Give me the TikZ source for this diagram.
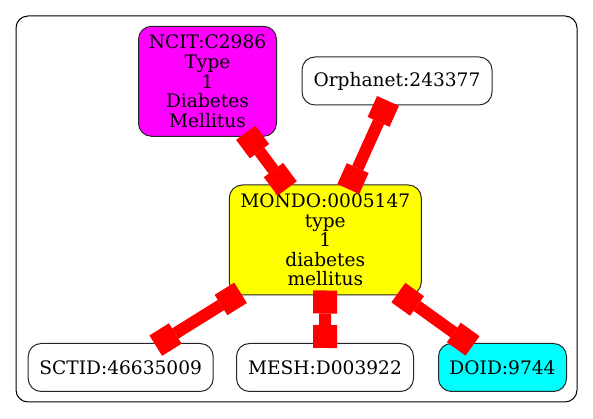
\documentclass[tikz,border=0pt]{standalone}
\usepackage{fontspec}
\setmainfont{DejaVu Serif}
\usetikzlibrary{arrows.meta}
\tikzset{
  termbox/.style={draw=black!85, line width=1pt, rounded corners=13pt, inner sep=0pt,
    align=center, font=\fontsize{18.6}{19.6}\selectfont},
  link/.style={draw=red, line width=12pt,
    {Square[length=23pt,width=24pt,line width=0pt]}-{Square[length=23pt,width=24pt,line width=0pt]},
    shorten <=-5pt, shorten >=-5pt}
}
\begin{document}
\begin{tikzpicture}[x=1pt,y=1pt]
\useasboundingbox (0,0) rectangle (593,419);
\draw[black, line width=1pt, rounded corners=12pt] (16,17) rectangle (577,403);
\node[termbox, fill={rgb,255:red,255;green,0;blue,255}, minimum width=138pt, minimum height=110pt] (ncit) at (207.5,337.7) {NCIT:C2986\\Type\\1\\Diabetes\\Mellitus};
\node[termbox, fill=white, minimum width=190pt, minimum height=48pt] (orpha) at (397,338) {Orphanet:243377};
\node[termbox, fill={rgb,255:red,255;green,255;blue,0}, minimum width=192pt, minimum height=110pt] (mondo) at (325.3,179) {MONDO:0005147\\type\\1\\diabetes\\mellitus};
\node[termbox, fill=white, minimum width=185pt, minimum height=48pt] (sctid) at (120.7,51.5) {SCTID:46635009};
\node[termbox, fill=white, minimum width=177pt, minimum height=48pt] (mesh) at (325,51.5) {MESH:D003922};
\node[termbox, fill={rgb,255:red,0;green,255;blue,255}, minimum width=128pt, minimum height=48pt] (doid) at (502.5,51.5) {DOID:9744};
\draw[link] (ncit) -- (mondo);
\draw[link] (orpha) -- (mondo);
\draw[link] (mondo) -- (sctid);
\draw[link] (mondo) -- (mesh);
\draw[link] (mondo) -- (doid);
\end{tikzpicture}
\end{document}
